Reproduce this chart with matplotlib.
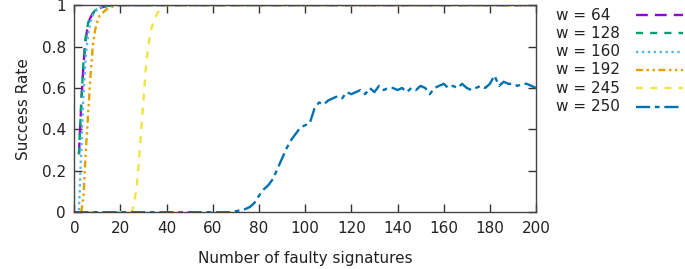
import matplotlib
matplotlib.use("Agg")
import matplotlib.pyplot as plt
from matplotlib.lines import Line2D
import numpy as np

labels = ["w = 64", "w = 128", "w = 160", "w = 192", "w = 245", "w = 250"]
colors = ["#9400d3", "#009e73", "#56b4e9", "#e69f00", "#f0e442", "#0072b2"]

x64 = [2, 3, 4, 5, 6, 7, 8, 9, 10, 12, 14, 16, 200]
y64 = [0.28, 0.52, 0.72, 0.84, 0.91, 0.94, 0.96, 0.97, 0.98, 0.99, 0.995, 1.0, 1.0]

x128 = [2, 3, 4, 5, 6, 7, 8, 9, 10, 12, 14, 16, 200]
y128 = [0.28, 0.53, 0.73, 0.85, 0.915, 0.945, 0.96, 0.975, 0.98, 0.99, 0.996, 1.0, 1.0]

x160 = [2, 3, 4, 5, 6, 7, 8, 9, 10, 12, 15, 200]
y160 = [0.01, 0.30, 0.58, 0.76, 0.86, 0.92, 0.95, 0.97, 0.98, 0.99, 1.0, 1.0]

x192 = [3, 4, 5, 6, 7, 8, 9, 10, 11, 12, 14, 16, 18, 200]
y192 = [0.0, 0.08, 0.30, 0.48, 0.66, 0.80, 0.88, 0.92, 0.95, 0.96, 0.98, 0.99, 1.0, 1.0]

x245 = [0, 25, 26, 27, 28, 29, 30, 31, 32, 33, 34, 35, 36, 37, 38, 40, 200]
y245 = [0.0, 0.0, 0.05, 0.12, 0.25, 0.40, 0.55, 0.70, 0.80, 0.87, 0.91, 0.94, 0.96, 0.98, 0.99, 1.0, 1.0]

x250 = [0, 66, 68, 70, 72, 74, 76, 78, 80, 82, 84, 86, 88, 90, 92, 94, 96, 98,
        100, 102, 104, 106, 108, 110, 112, 114, 116, 118, 120, 122, 124, 126, 128,
        130, 132, 134, 136, 138, 140, 142, 144, 146, 148, 150, 152, 154, 156, 158,
        160, 162, 164, 166, 168, 170, 172, 174, 176, 178, 180, 182, 184, 186, 188,
        190, 192, 194, 196, 198, 200]
y250 = [0.0, 0.0, 0.0, 0.005, 0.01, 0.015, 0.025, 0.045, 0.08, 0.11, 0.13, 0.16, 0.21, 0.26, 0.31, 0.35, 0.38, 0.41,
        0.42, 0.43, 0.50, 0.53, 0.52, 0.54, 0.55, 0.56, 0.55, 0.58, 0.57, 0.58, 0.59, 0.57, 0.60,
        0.58, 0.61, 0.59, 0.60, 0.60, 0.59, 0.60, 0.58, 0.60, 0.59, 0.61, 0.60, 0.57, 0.60, 0.61,
        0.62, 0.60, 0.61, 0.60, 0.62, 0.60, 0.59, 0.60, 0.61, 0.60, 0.62, 0.66, 0.61, 0.63, 0.62,
        0.62, 0.61, 0.62, 0.62, 0.61, 0.60]

series = [(x64, y64), (x128, y128), (x160, y160), (x192, y192), (x245, y245), (x250, y250)]
dashes = [(5, 3), (3, 3), (1, 1.5), (3, 1.5, 1, 1.5, 1, 1.5), (3, 3), (6, 2, 2, 2)]

xticks = [0, 20, 40, 60, 80, 100, 120, 140, 160, 180, 200]
yticks = [0, 0.2, 0.4, 0.6, 0.8, 1]
yticklabels = ["0", "0.2", "0.4", "0.6", "0.8", "1"]

plt.rcParams['font.family'] = ['DejaVu Sans']
W, H = 685, 269
fig = plt.figure(figsize=(W / 100, H / 100), dpi=100)
ax = fig.add_axes([0.1085, 0.211, 0.674, 0.770])

for (xs, ys), c, d, lab in zip(series, colors, dashes, labels):
    ax.plot(xs, ys, color=c, lw=1.7, dashes=d, label=lab)

ax.set_xlim(0, 200)
ax.set_ylim(0, 1)
ax.set_xticks(xticks)
ax.set_yticks(yticks)
ax.set_yticklabels(yticklabels)
ax.tick_params(direction="in", length=6, width=1, top=True, right=True,
               labelsize=11, colors="#333333", labelcolor="#222222", pad=6)
for s in ax.spines.values():
    s.set_color("#444444")
    s.set_linewidth(1)
ax.set_xlabel("Number of faulty signatures", fontsize=11, color="#222222", labelpad=11)
ax.set_ylabel("Success Rate", fontsize=11, color="#222222", labelpad=8)

# legend drawn outside the axes, text left-aligned then line sample
row_y = [15, 33.3, 51.7, 70, 88.3, 106.7]
for ry, c, d, lab in zip(row_y, colors, dashes, labels):
    yf = 1 - ry / H
    fig.text(556 / W, yf, lab, ha="left", va="center", fontsize=11, color="#222222")
    fig.add_artist(Line2D([636 / W, 683 / W], [yf, yf], transform=fig.transFigure,
                          color=c, lw=1.7, dashes=d))

fig.savefig("out.png", dpi=100)
